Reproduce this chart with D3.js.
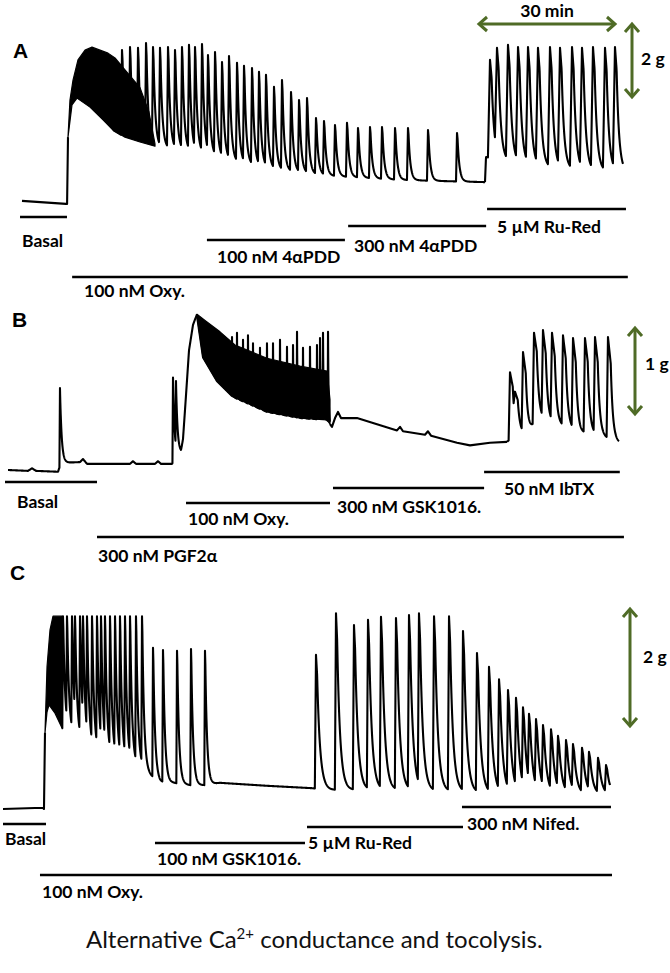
<!DOCTYPE html>
<html><head><meta charset="utf-8">
<script src="https://cdn.jsdelivr.net/npm/d3@7"></script>
<style>body{margin:0;background:#fff}svg{display:block}</style>
</head><body>
<svg id="fig" width="670" height="973"></svg>
<script>
// ---------------- DATA (time in min, force in g) ----------------
// Panel A
const aBasal = [[0,0.03],[9.57,-0.05],[9.8,-0.05],[10.0,1.73]];
const aBandUpper = [[10.0,1.73],[10.43,2.72],[11.09,3.25],[12.17,3.79],[13.70,4.05],[15.22,4.13],[16.96,4.05],[18.70,3.97],[20.22,3.84],[22.39,3.52],[25.65,3.05],[27.6,2.4],[28.91,1.55]];
const aBandLower = [[10.0,1.73],[10.87,2.59],[11.96,2.77],[14.78,2.53],[17.61,2.19],[19.78,1.92],[22.39,1.73],[25.65,1.60],[28.91,1.49]];
const aTone1 = [[19.78,1.92],[22.39,1.73],[25.65,1.60],[27.83,1.49],[38.7,1.31],[47.39,1.04],[56.09,0.85],[64.78,0.72],[70.43,0.67],[82.17,0.59],[90.87,0.56],[100.65,0.53]];
const aSpikeT1 = [21.74,23.48,25.22,26.96,28.48,30.0,31.74,33.26,34.78,36.30,37.61,39.13,40.43,41.96,43.48,45.0,46.74,48.26,50.0,51.52,53.04,54.78,56.52,58.48,60.22,61.96,63.91,65.65,68.04,70.65,73.04,75.65,78.26,81.09,83.91,88.26,94.57];
const aSpikeF1 = [4.05,4.13,4.11,4.24,4.13,4.11,4.13,4.05,4.13,4.19,4.13,4.21,3.92,4.0,3.73,3.89,3.71,3.63,3.57,3.47,3.39,3.07,3.25,2.93,2.72,2.77,2.24,2.16,2.05,2.11,1.97,2.0,2.0,1.97,1.97,1.92,1.84];
const aTone2 = [[100.65,0.53],[100.87,1.2],[106.09,1.07],[112.61,0.93],[121.3,0.85],[130.65,0.8]];
const aSpikeT2 = [101.74,103.26,105.65,107.83,110.0,112.17,114.78,116.96,119.57,121.74,124.13,126.74,128.91];
const aSpikeF2 = [3.79,4.11,4.19,4.13,4.13,4.11,4.13,4.11,4.13,4.11,4.13,4.11,4.13];
const aTreatNames = ["Basal","100 nM Oxy.","100 nM 4αPDD","300 nM 4αPDD","5 µM Ru-Red"];
const aTreatStart = [-0.43,10.9,40.2,70.9,101.1];
const aTreatEnd   = [9.78,131.7,70.2,100.9,131.3];

// Panel B
const bTone1 = [[0,0],[4.35,-0.01],[5.22,0.02],[6.09,-0.01],[10.87,-0.02],[11.52,0.08],[15.65,0.09],[16.30,0.125],[17.17,0.07],[26.52,0.07],[27.17,0.10],[27.83,0.07],[31.96,0.07],[32.61,0.10],[33.26,0.07],[35.65,0.07],[36.96,0.16],[37.61,0.19],[38.04,0.34],[38.70,0.85],[39.35,1.36],[40.22,1.65],[41.09,1.77]];
const bSpikeT1 = [11.30,35.87,36.52];
const bSpikeF1 = [0.93,1.05,1.01];
const bBandUpper = [[41.09,1.77],[42.83,1.70],[46.09,1.57],[49.35,1.42],[56.30,1.27],[63.48,1.18],[69.35,1.125],[70.0,0.80]];
const bBandLower = [[41.09,1.75],[42.39,1.28],[45.43,1.01],[48.91,0.83],[56.30,0.66],[63.48,0.59],[69.35,0.57],[70.0,0.52]];
const bSpikeT2 = [48.70,49.78,51.09,52.17,53.26,54.78,56.30,57.61,59.13,60.65,61.96,62.83,64.13,65.65,67.17,67.83,68.48,69.57];
const bSpikeF2 = [1.51,1.56,1.48,1.53,1.44,1.39,1.44,1.44,1.48,1.40,1.42,1.57,1.39,1.40,1.42,1.50,1.56,1.57];
const bTone2 = [[70.0,0.52],[70.43,0.49],[71.09,0.59],[71.74,0.66],[72.39,0.59],[75.87,0.59],[84.57,0.45],[85.22,0.49],[85.87,0.44],[90.65,0.40],[91.30,0.44],[91.96,0.39],[97.61,0.31],[100.43,0.28],[104.78,0.31],[108.48,0.32]];
const bTone3 = [[108.48,0.32],[108.91,0.34],[110.87,0.43],[112.83,0.40],[115.22,0.59],[117.39,0.55],[119.57,0.51],[121.74,0.49],[124.35,0.42],[126.52,0.42],[129.35,0.38],[132.83,0.31]];
const bSpikeT3 = [109.13,110.22,111.96,114.35,116.30,118.26,120.65,122.83,125.43,127.61,130.43];
const bSpikeF3 = [1.11,0.89,1.34,1.56,1.59,1.56,1.53,1.50,1.50,1.51,1.51];
const bTreatNames = ["Basal","300 nM PGF2α","100 nM Oxy.","300 nM GSK1016.","50 nM IbTX"];
const bTreatStart = [-0.65,19.35,38.7,70.65,103.5];
const bTreatEnd   = [19.35,133.9,70.0,103.5,133.0];

// Panel C
const cTone1 = [[0,0],[8.70,0.02],[8.91,0],[9.02,0.66],[9.13,1.28]];
const cBandUpper = [[9.13,1.28],[9.57,2.39],[10.22,3.01],[10.87,3.24],[12.83,3.24]];
const cBandLower = [[9.13,1.28],[9.57,1.63],[10.0,1.75],[11.3,1.61],[12.83,1.36]];
const cTone2 = [[12.83,1.36],[16.74,1.16],[20.43,0.96],[23.91,0.86],[27.61,0.77],[30.22,0.69],[31.96,0.57],[34.13,0.45],[36.96,0.44],[40.65,0.40],[43.91,0.40],[47.17,0.44],[57.39,0.39],[67.17,0.35]];
const cSpikeT2 = [13.04,13.91,15.0,15.65,16.74,17.39,18.26,19.35,20.43,21.30,22.17,23.26,24.35,25.43,26.52,27.61,28.91,30.22,32.61,34.78,37.83,40.87,43.91];
const cSpikeF2 = [3.24,3.24,3.24,3.24,3.24,3.24,3.24,3.24,3.24,3.24,3.24,3.24,3.24,3.24,3.24,3.24,3.24,3.24,2.71,2.67,2.66,2.69,2.66];
const cTone3 = [[67.17,0.35],[71.09,0.32],[86.3,0.32],[99.35,0.29],[108.04,0.25],[131.96,0.24]];
const cSpikeT3 = [68.04,72.39,76.30,79.35,82.17,85.43,88.26,90.43,93.70,96.96,100.0,103.04,105.65,107.83,109.78,111.52,113.04,114.35,115.87,117.39,119.13,120.65,122.39,123.91,125.87,127.39,129.35,131.09];
const cSpikeF3 = [2.59,3.29,3.09,3.18,3.23,3.21,3.26,3.29,3.24,3.24,2.99,2.62,2.39,2.18,2.0,1.87,1.71,1.60,1.51,1.41,1.34,1.23,1.16,1.09,1.03,0.96,0.86,0.74];
const cTreatNames = ["Basal","100 nM Oxy.","100 nM GSK1016.","5 µM Ru-Red","300 nM Nifed."];
const cTreatStart = [0,8.04,33.04,66.09,99.78];
const cTreatEnd   = [9.35,132.39,65.65,100.0,132.17];

// scale-bar values
const timeBarMin = 30;
const forceBarG = [2, 1, 2];
const caption = ["Alternative Ca", "2+", " conductance and tocolysis."];

// ---------------- LAYOUT ----------------
const svg = d3.select("#fig");
const green = "#4f6b26";
const FONT = "Lato, 'Open Sans', sans-serif";

const xA = d3.scaleLinear().domain([0,130]).range([22,620]);
const xB = d3.scaleLinear().domain([0,130]).range([8,606]);
const xC = d3.scaleLinear().domain([0,130]).range([3,601]);
const yA = d3.scaleLinear().domain([0,4]).range([202,52]);
const yB = d3.scaleLinear().domain([0,1]).range([470,382]);
const yC = d3.scaleLinear().domain([0,3]).range([809,630.5]);

function interp(knots, t){
  if (t <= knots[0][0]) return knots[0][1];
  for (let i=1;i<knots.length;i++){
    if (t <= knots[i][0]){
      const [t0,f0]=knots[i-1],[t1,f1]=knots[i];
      return t1===t0 ? f1 : f0+(f1-f0)*(t-t0)/(t1-t0);
    }
  }
  return knots[knots.length-1][1];
}
// contraction trace: tone knots + spikes rendered with a rise/decay mark shape
function trace(knots, st, sf, shape){
  const t0 = knots[0][0], t1 = knots[knots.length-1][0];
  const spikes = st.map((t,i)=>[t,sf[i]]);
  const g = u => u < shape.hold ? 1 - shape.drop*u/shape.hold
                                 : (1-shape.drop)*Math.exp(-(u-shape.hold)/shape.tau);
  function val(t){
    let v = interp(knots,t), last=null;
    for (const s of spikes){ if (s[0] <= t) last = s; else break; }
    if (last) v += (last[1]-interp(knots,last[0]))*g(t-last[0]);
    return v;
  }
  const pts=[]; const dt=0.04; let t=t0;
  for (const s of spikes){
    const ts = s[0]-shape.rise;
    while (t < ts){ pts.push([t,val(t)]); t+=dt; }
    pts.push([ts,val(ts)]);
    pts.push([s[0],s[1]]);
    t = s[0]+dt;
  }
  while (t < t1){ pts.push([t,val(t)]); t+=dt; }
  pts.push([t1,val(t1)]);
  return pts;
}

function drawPanel(x, y, parts){
  const g = svg.append("g");
  const line = d3.line().x(d=>x(d[0])).y(d=>y(d[1]));
  parts.bands.forEach(b=>{
    const poly = b[0].concat(b[1].slice().reverse());
    g.append("path").attr("d", line(poly)+"Z").attr("fill","#000")
     .attr("stroke","#000").attr("stroke-width",1.2).attr("stroke-linejoin","round");
  });
  parts.lines.forEach(p=>{
    g.append("path").attr("d", line(p)).attr("fill","none").attr("stroke","#000")
     .attr("stroke-width",2.1).attr("stroke-linejoin","round");
  });
}

// Panel A
drawPanel(xA, yA, {
  bands:[[aBandUpper, aBandLower]],
  lines:[aBasal,
         trace(aTone1, aSpikeT1, aSpikeF1, {rise:0.22, hold:0.12, drop:0.12, tau:0.42}),
         trace(aTone2, aSpikeT2, aSpikeF2, {rise:0.45, hold:0.35, drop:0.18, tau:0.55})]
});
// Panel B
drawPanel(xB, yB, {
  bands:[[bBandUpper, bBandLower]],
  lines:[trace(bTone1, bSpikeT1, bSpikeF1, {rise:0.12, hold:0.0001, drop:0, tau:0.35}),
         trace(bBandLower, bSpikeT2, bSpikeF2, {rise:0.08, hold:0.0001, drop:0, tau:0.12}),
         bTone2,
         trace(bTone3, bSpikeT3, bSpikeF3, {rise:0.3, hold:0.6, drop:0.25, tau:0.45})]
});
// Panel C
drawPanel(xC, yC, {
  bands:[[cBandUpper, cBandLower]],
  lines:[cTone1,
         trace(cTone2, cSpikeT2, cSpikeF2, {rise:0.15, hold:0.08, drop:0.1, tau:0.4}),
         trace(cTone3, cSpikeT3, cSpikeF3, {rise:0.25, hold:0.25, drop:0.15, tau:0.65})]
});

// treatment bars
function treatments(x, names, starts, ends, layout){
  names.forEach((n,i)=>{
    const L = layout[i];
    svg.append("line").attr("x1",x(starts[i])).attr("x2",x(ends[i]))
      .attr("y1",L[0]).attr("y2",L[0]).attr("stroke","#000").attr("stroke-width",2.6);
    svg.append("text").attr("x",L[1]).attr("y",L[2]).text(n)
      .attr("font-family",FONT).attr("font-weight",700).attr("font-size",17.5).attr("fill","#000");
  });
}
treatments(xA, aTreatNames, aTreatStart, aTreatEnd, [[217,22,247],[277,84,297],[240,217,263],[226,354,252],[209,497,233]]);
treatments(xB, bTreatNames, bTreatStart, bTreatEnd, [[482,17,508],[537,98,562],[503,188,525],[488,337,513],[472,504,495]]);
treatments(xC, cTreatNames, cTreatStart, cTreatEnd, [[824,5,845],[875,42,898],[843,157,865],[827,308,849],[807,467,830]]);

// panel letters
[["A",13,58],["B",12,327],["C",10,580]].forEach(d=>{
  svg.append("text").attr("x",d[1]).attr("y",d[2]).text(d[0])
    .attr("font-family","'Liberation Sans', Arial, sans-serif").attr("font-weight",700)
    .attr("font-size",21).attr("fill","#000");
});

// scale arrows
function vArrow(xp, top, len){
  const g = svg.append("g").attr("stroke",green).attr("stroke-width",3).attr("fill","none");
  g.append("line").attr("x1",xp).attr("x2",xp).attr("y1",top+1).attr("y2",top+len-1);
  g.append("polyline").attr("points",`${xp-7},${top+9} ${xp},${top+1} ${xp+7},${top+9}`);
  g.append("polyline").attr("points",`${xp-7},${top+len-9} ${xp},${top+len-1} ${xp+7},${top+len-9}`);
}
function hArrow(left, yp, len){
  const g = svg.append("g").attr("stroke",green).attr("stroke-width",3).attr("fill","none");
  g.append("line").attr("x1",left+1).attr("x2",left+len-1).attr("y1",yp).attr("y2",yp);
  g.append("polyline").attr("points",`${left+9},${yp-7} ${left+1},${yp} ${left+9},${yp+7}`);
  g.append("polyline").attr("points",`${left+len-9},${yp-7} ${left+len-1},${yp} ${left+len-9},${yp+7}`);
}
function label(t,xp,yp,anchor){
  svg.append("text").attr("x",xp).attr("y",yp).text(t).attr("text-anchor",anchor||"start")
    .attr("font-family",FONT).attr("font-weight",700).attr("font-size",17.5).attr("fill","#000");
}
const hLen = xA(timeBarMin)-xA(0);
hArrow(478, 24, hLen); label(timeBarMin+" min", 478+hLen/2, 17, "middle");
vArrow(632, 23, yA(0)-yA(forceBarG[0])); label(forceBarG[0]+" g", 641, 65);
vArrow(635, 327, yB(0)-yB(forceBarG[1])); label(forceBarG[1]+" g", 645, 370);
vArrow(630, 608, yC(0)-yC(forceBarG[2])); label(forceBarG[2]+" g", 643, 663);

// caption
const cap = svg.append("text").attr("x",86).attr("y",948).attr("font-family",FONT)
  .attr("font-size",24).attr("fill","#111");
cap.append("tspan").text(caption[0]);
cap.append("tspan").text(caption[1]).attr("font-size",15).attr("dy",-9);
cap.append("tspan").text(caption[2]).attr("dy",9);
</script>
</body></html>
